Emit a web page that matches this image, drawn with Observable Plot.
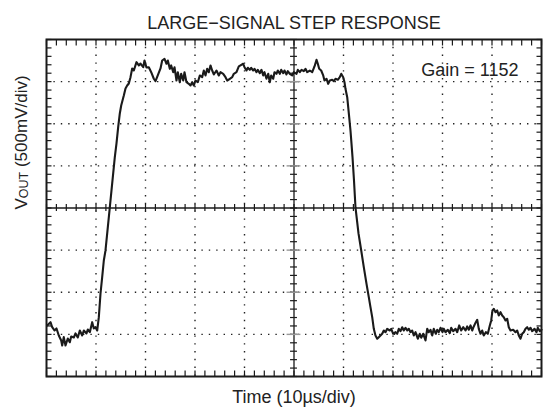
<!DOCTYPE html>
<html><head><meta charset="utf-8">
<script src="https://cdn.jsdelivr.net/npm/d3@7"></script>
<script src="https://cdn.jsdelivr.net/npm/@observablehq/plot@0.6"></script>
<style>body{margin:0;background:#fff;}</style>
</head><body><div id="chart"></div>
<script>
// ---- Text ----
const titleText = "LARGE\u2212SIGNAL STEP RESPONSE";
const xLabel = "Time (10\u00b5s/div)";
const yLabelMain = "V", yLabelSub = "OUT", yLabelRest = " (500mV/div)";
const gainText = "Gain = 1152";

// ---- Scope divisions (time in µs, Vout in V; 10 µs/div, 0.5 V/div) ----
const xDomain = [0, 100];
const yDomain = [-2, 2];
const gridX = [10, 20, 30, 40, 60, 70, 80, 90];
const gridY = [-1.5, -1, -0.5, 0.5, 1, 1.5];
const centerX = [50];
const centerY = [0];
const minorX = [0,2,4,6,8,10,12,14,16,18,20,22,24,26,28,30,32,34,36,38,40,42,44,46,48,50,52,54,56,58,60,62,64,66,68,70,72,74,76,78,80,82,84,86,88,90,92,94,96,98,100];
const minorY = [-2,-1.9,-1.8,-1.7,-1.6,-1.5,-1.4,-1.3,-1.2,-1.1,-1,-0.9,-0.8,-0.7,-0.6,-0.5,-0.4,-0.3,-0.2,-0.1,0,0.1,0.2,0.3,0.4,0.5,0.6,0.7,0.8,0.9,1,1.1,1.2,1.3,1.4,1.5,1.6,1.7,1.8,1.9,2];

// ---- Trace [time µs, Vout V] ----
const traceLowStart = [[0.14,-1.394],[0.81,-1.355],[1.15,-1.415],[1.62,-1.454],[2.02,-1.430],[2.48,-1.513],[2.97,-1.572],[3.17,-1.632],[3.49,-1.533],[3.84,-1.632],[4.30,-1.549],[4.71,-1.593],[4.99,-1.525],[5.52,-1.537],[5.86,-1.489],[6.32,-1.537],[6.73,-1.454],[7.21,-1.513],[7.54,-1.454],[8.08,-1.489],[8.34,-1.442],[8.75,-1.474],[9.23,-1.355],[9.56,-1.430],[9.90,-1.415],[10.24,-1.454]];
const traceRise = [[10.57,-1.296],[10.91,-1.015],[11.25,-0.821],[11.58,-0.623],[11.92,-0.504],[12.83,0.030],[13.80,0.603],[14.14,0.766],[14.48,0.959],[14.81,1.122],[15.09,1.217],[15.62,1.335],[15.96,1.419],[16.30,1.454],[16.63,1.478],[16.97,1.553],[17.31,1.656],[17.64,1.632],[18.18,1.731]];
const traceHigh = [[18.65,1.692],[18.99,1.715],[19.54,1.671],[19.80,1.751],[20.20,1.668],[20.67,1.671],[21.15,1.612],[21.68,1.534],[22.02,1.505],[22.48,1.573],[23.03,1.656],[23.37,1.751],[23.84,1.771],[24.24,1.712],[24.51,1.751],[24.91,1.652],[25.19,1.692],[25.60,1.612],[25.86,1.671],[26.26,1.513],[26.53,1.612],[26.93,1.493],[27.21,1.593],[27.62,1.513],[27.88,1.612],[28.28,1.493],[28.75,1.474],[29.09,1.454],[29.43,1.493],[29.76,1.454],[30.10,1.513],[30.57,1.493],[30.97,1.573],[31.45,1.553],[31.78,1.632],[32.12,1.573],[32.46,1.652],[32.79,1.612],[33.13,1.692],[33.47,1.632],[33.80,1.585],[34.34,1.632],[34.81,1.573],[35.15,1.612],[35.70,1.593],[36.16,1.553],[36.51,1.513],[37.03,1.534],[37.52,1.553],[37.84,1.593],[38.38,1.612],[38.85,1.680],[39.19,1.692],[39.74,1.712],[40.00,1.671],[40.40,1.632],[40.67,1.664],[41.07,1.640],[41.35,1.664],[41.76,1.632],[42.02,1.652],[42.42,1.612],[42.69,1.640],[43.09,1.600],[43.43,1.640],[43.78,1.573],[44.04,1.612],[44.44,1.534],[44.79,1.593],[45.11,1.493],[45.39,1.573],[45.80,1.534],[46.06,1.612],[46.46,1.593],[46.73,1.632],[47.13,1.593],[47.41,1.640],[47.82,1.600],[48.08,1.632],[48.48,1.585],[48.75,1.624],[49.15,1.593],[49.64,1.573],[49.96,1.612],[50.51,1.593],[50.77,1.640],[51.17,1.612],[51.52,1.640],[51.98,1.624],[52.32,1.652],[52.67,1.612],[53.19,1.632],[53.68,1.612],[54.14,1.680],[54.55,1.759],[54.81,1.712],[55.09,1.652],[55.49,1.632],[55.90,1.573],[56.16,1.513],[56.57,1.534],[56.91,1.474],[57.23,1.513],[57.72,1.522],[58.04,1.505],[58.38,1.534],[58.85,1.522],[59.25,1.553],[59.54,1.593],[59.94,1.553],[60.20,1.493]];
const traceFall = [[60.40,1.415],[60.75,1.315],[60.95,1.197],[61.15,1.078],[61.41,0.920],[61.62,0.762],[61.82,0.603],[62.12,0.327],[62.42,0.006],[63.03,-0.302],[63.58,-0.504],[64.10,-0.702],[64.65,-0.900],[65.11,-1.058],[65.45,-1.177],[65.80,-1.296],[66.12,-1.434],[66.46,-1.513],[66.81,-1.552]];
const traceLowEnd = [[67.13,-1.533],[67.47,-1.513],[67.82,-1.493],[68.14,-1.454],[68.48,-1.474],[68.83,-1.434],[69.35,-1.454],[69.64,-1.434],[70.04,-1.493],[70.51,-1.474],[70.85,-1.493],[71.17,-1.434],[71.52,-1.462],[71.86,-1.415],[72.18,-1.454],[72.53,-1.422],[72.87,-1.454],[73.19,-1.434],[73.54,-1.474],[73.88,-1.454],[74.20,-1.513],[74.55,-1.474],[75.01,-1.552],[75.41,-1.493],[75.70,-1.540],[76.10,-1.493],[76.57,-1.572],[76.91,-1.434],[77.23,-1.474],[77.58,-1.445],[77.92,-1.513],[78.24,-1.434],[78.65,-1.493],[78.93,-1.445],[79.25,-1.474],[79.60,-1.422],[80.00,-1.474],[80.26,-1.434],[80.61,-1.474],[81.07,-1.445],[81.47,-1.486],[81.76,-1.422],[82.16,-1.462],[82.63,-1.434],[82.97,-1.474],[83.37,-1.394],[83.78,-1.454],[84.18,-1.415],[84.65,-1.454],[84.99,-1.406],[85.31,-1.445],[85.66,-1.394],[86.00,-1.454],[86.32,-1.406],[86.73,-1.355],[87.01,-1.327],[87.33,-1.434],[87.68,-1.493],[88.02,-1.454],[88.34,-1.513],[88.75,-1.474],[89.15,-1.493],[89.56,-1.394],[89.84,-1.335],[90.10,-1.216],[90.36,-1.196],[90.71,-1.237],[91.05,-1.216],[91.37,-1.276],[91.72,-1.237],[92.06,-1.276],[92.38,-1.296],[92.73,-1.335],[93.07,-1.315],[93.39,-1.415],[93.74,-1.454],[94.28,-1.445],[94.75,-1.474],[95.09,-1.454],[95.41,-1.513],[95.76,-1.552],[96.10,-1.493],[96.42,-1.474],[96.77,-1.434],[97.11,-1.415],[97.43,-1.445],[97.78,-1.422],[98.12,-1.462],[98.59,-1.434],[98.99,-1.474],[99.25,-1.422],[99.66,-1.462],[100.0,-1.445]];

const trace = [...traceLowStart, ...traceRise, ...traceHigh, ...traceFall, ...traceLowEnd]
  .map(([t, v]) => ({t, v}));

const yLabelFull = yLabelMain + yLabelSub + yLabelRest;
const font = "'Liberation Sans', Arial, Helvetica, sans-serif";
const ink = "#1a1a1a";

const tickStyle = {stroke: ink, strokeWidth: 1.2, fill: "none", label: null};

const chart = Plot.plot({
  width: 543,
  height: 416,
  marginTop: 39,
  marginBottom: 40,
  marginLeft: 46,
  marginRight: 2,
  style: {fontFamily: font, background: "#fff", color: ink, overflow: "visible"},
  x: {domain: xDomain},
  y: {domain: yDomain},
  marks: [
    // dotted division grid
    Plot.ruleX(gridX, {stroke: "#222", strokeWidth: 1.4, strokeDasharray: "1.4,6.4"}),
    Plot.ruleY(gridY, {stroke: "#222", strokeWidth: 1.4, strokeDasharray: "1.4,6"}),
    // solid center cross
    Plot.ruleX(centerX, {stroke: ink, strokeWidth: 1.3}),
    Plot.ruleY(centerY, {stroke: ink, strokeWidth: 1.3}),
    // minor ticks on center lines
    Plot.ruleX(minorX, {y1: -0.042, y2: 0.042, stroke: ink, strokeWidth: 1.2}),
    Plot.ruleY(minorY, {x1: 49.3, x2: 50.7, stroke: ink, strokeWidth: 1.2}),
    Plot.ruleY(gridY, {x1: 48.6, x2: 51.4, stroke: "#999", strokeWidth: 1.4}),
    // minor ticks on the frame edges, pointing inward
    Plot.axisX(minorX, {anchor: "bottom", tickSize: -5.5, ...tickStyle}),
    Plot.axisX(minorX, {anchor: "top", tickSize: -5.5, ...tickStyle}),
    Plot.axisY(minorY, {anchor: "left", tickSize: -5.5, ...tickStyle}),
    Plot.axisY(minorY, {anchor: "right", tickSize: -5.5, ...tickStyle}),
    // the trace
    Plot.line(trace, {x: "t", y: "v", stroke: ink, strokeWidth: 2.1, strokeLinejoin: "round", strokeLinecap: "round"}),
    Plot.frame({stroke: ink, strokeWidth: 2}),
    // texts
    Plot.text([titleText], {frameAnchor: "top", dy: -23.4, fontSize: 18, fill: "#222"}),
    Plot.text([gainText], {frameAnchor: "top-right", textAnchor: "end", dx: -23, dy: 23.5, fontSize: 18, fill: "#222"}),
    Plot.text([xLabel], {frameAnchor: "bottom", dy: 26.2, fontSize: 18, fill: "#222"}),
    Plot.text([yLabelFull], {frameAnchor: "left", rotate: -90, dx: -25, dy: 1.5, fontSize: 17, fill: "#222"})
  ]
});

// subscript "OUT" in the y label
d3.select(chart).selectAll("text")
  .filter(function () { return this.textContent === yLabelFull; })
  .each(function () {
    const t = d3.select(this);
    t.text(null);
    t.append("tspan").text(yLabelMain);
    t.append("tspan").attr("font-size", 12.5).attr("dy", 1.5).text(yLabelSub);
    t.append("tspan").attr("dy", -1.5).text(yLabelRest);
  });

document.getElementById("chart").appendChild(chart);
</script>
</body></html>
